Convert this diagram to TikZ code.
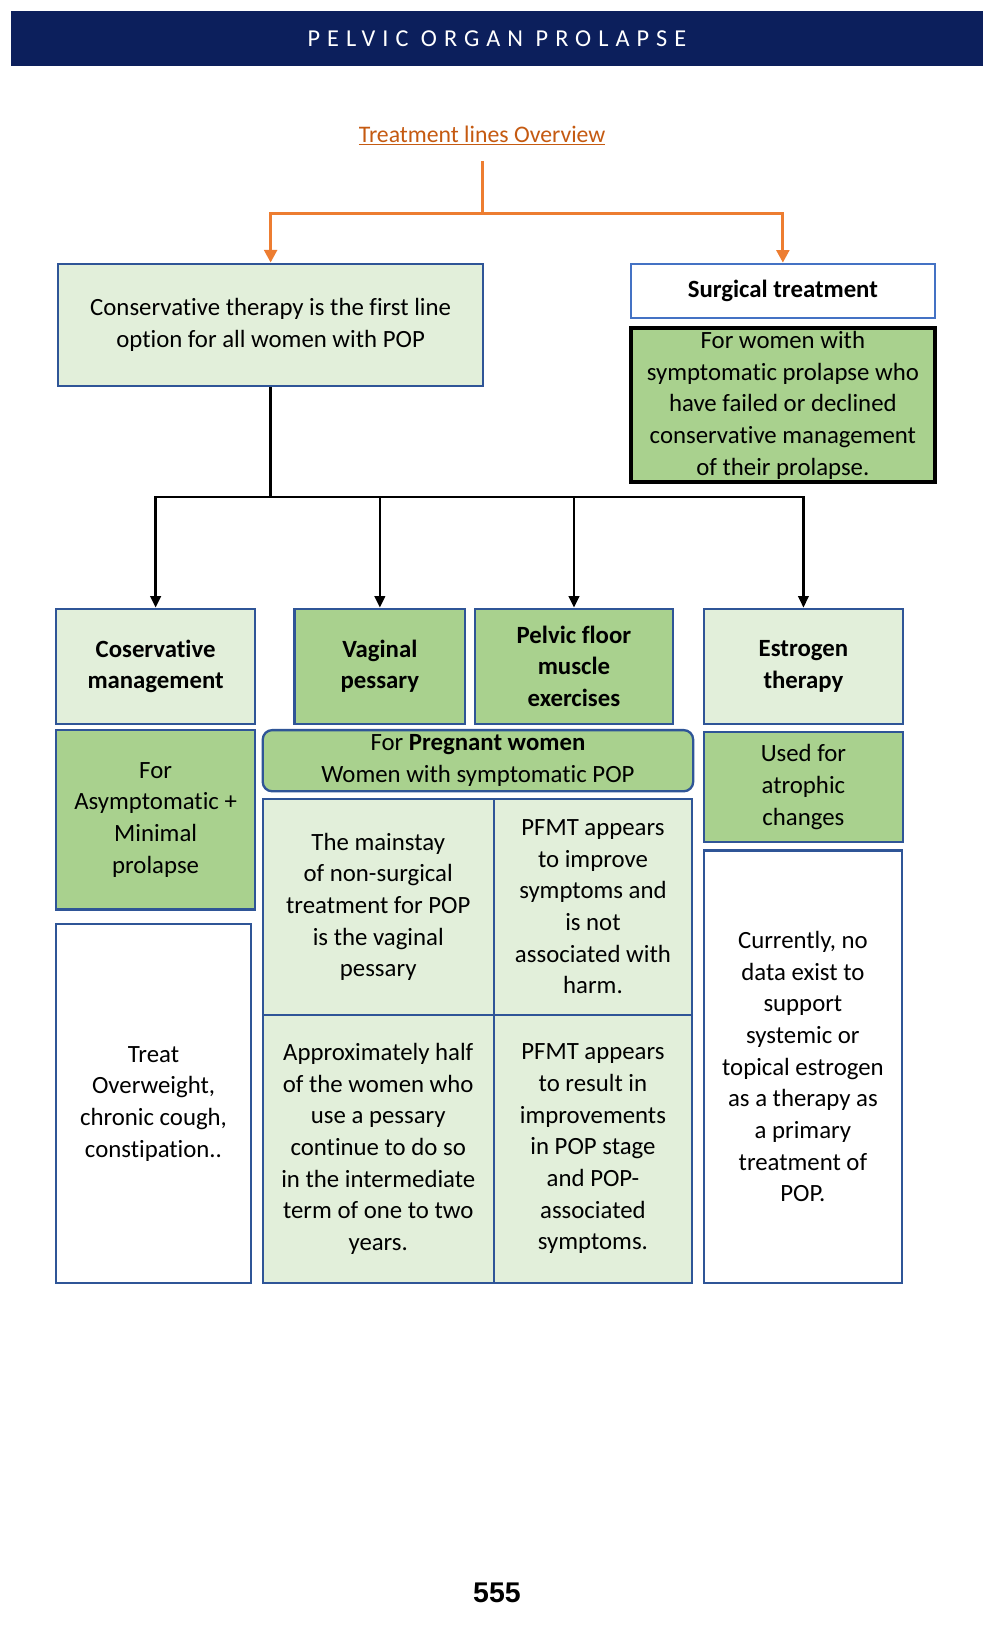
\documentclass[tikz,border=0pt]{standalone}
\usepackage{fontspec}
\setmainfont{Carlito}[Ligatures=NoCommon]
\newfontfamily\hdrfont[LetterSpace=29]{Carlito}
\newfontfamily\pgfont{Liberation Sans}
\usetikzlibrary{arrows.meta}
\definecolor{navy}{HTML}{0C1F5C}
\definecolor{lightg}{HTML}{E2EFDA}
\definecolor{midg}{HTML}{A9D18E}
\definecolor{bord}{HTML}{2F5597}
\definecolor{bordlight}{HTML}{4472C4}
\definecolor{orgline}{HTML}{ED7D31}
\definecolor{orgtext}{HTML}{C55A11}
\tikzset{
  box/.style={draw=bord, line width=2.2pt, inner sep=0pt, align=center,
    font=\fontsize{23.5}{30}\selectfont},
  lbox/.style={box, fill=lightg},
  gbox/.style={box, fill=midg},
  wbox/.style={box, fill=white},
  orgarrow/.style={draw=orgline, line width=3pt, -{Triangle[length=12pt,width=12pt]}},
  orgplain/.style={draw=orgline, line width=3pt},
  blkarrow/.style={draw=black, line width=2.4pt, -{Triangle[length=11pt,width=10pt]}},
  blkplain/.style={draw=black, line width=2.4pt},
}
\begin{document}
\begin{tikzpicture}[x=1pt,y=-1pt]
\useasboundingbox (0,0) rectangle (940,1562);
\fill[white] (0,0) rectangle (940,1562);
% header
\node[fill=navy, minimum width=922pt, minimum height=53pt, inner sep=0pt,
  text=white, font=\hdrfont\fontsize{23}{28}\selectfont] (hdr) at (471,36.5) {PELVIC ORGAN PROLAPSE};
% title
\node[text=orgtext, font=\fontsize{22.5}{28}\selectfont, inner sep=0pt] (title) at (457,128) {\underline{Treatment lines Overview}};
\coordinate (ob) at (457,153);
\coordinate (oj) at (457,202);
% top boxes
\node[lbox, minimum width=403pt, minimum height=116pt] (cons) at (256.5,308)
  {Conservative therapy is the first line\\option for all women with POP};
\node[wbox, draw=bordlight, line width=2pt, minimum width=288pt, minimum height=51pt] (surg) at (742,275.5)
  {\textbf{Surgical treatment}};
\node[gbox, draw=black, line width=3.5pt, minimum width=288pt, minimum height=146pt] (surgg) at (742,384)
  {For women with\\symptomatic prolapse who\\have failed or declined\\conservative management\\of their prolapse.};
% connectors orange
\draw[orgplain] (ob) -- (oj);
\draw[orgarrow] (oj) -| (cons.north);
\draw[orgarrow] (oj) -| (surg.north);
% second level boxes
\node[lbox, minimum width=189pt, minimum height=109pt] (cm) at (147.5,631.5)
  {\textbf{Coservative}\\\textbf{management}};
\node[gbox, minimum width=162pt, minimum height=109pt] (vp) at (360,631.5)
  {\textbf{Vaginal}\\\textbf{pessary}};
\node[gbox, minimum width=188pt, minimum height=109pt] (pf) at (544,631.5)
  {\textbf{Pelvic floor}\\\textbf{muscle}\\\textbf{exercises}};
\node[lbox, minimum width=189pt, minimum height=109pt] (et) at (761.5,631.5)
  {\textbf{Estrogen}\\\textbf{therapy}};
% black connectors
\coordinate (bj) at (256.5,471);
\draw[blkplain] (cons.south) -- (bj);
\draw[blkarrow] (bj) -| (cm.north);
\draw[blkarrow] (bj) -| (vp.north);
\draw[blkarrow] (bj) -| (pf.north);
\draw[blkarrow] (bj) -| (et.north);
% third row
\node[gbox, minimum width=189pt, minimum height=170pt] (asym) at (147.5,777)
  {For\\Asymptomatic +\\Minimal\\prolapse};
\node[gbox, rounded corners=9pt, minimum width=408pt, minimum height=58pt] (preg) at (453,721)
  {For \textbf{Pregnant women}\\Women with symptomatic POP};
\node[gbox, minimum width=189pt, minimum height=104pt] (used) at (761.5,746)
  {Used for\\atrophic\\changes};
% lower boxes
\node[wbox, minimum width=185pt, minimum height=340pt] (treat) at (145.5,1046)
  {Treat\\Overweight,\\chronic cough,\\constipation..};
\node[lbox, minimum width=219pt, minimum height=205pt] (tl) at (358.5,859.5)
  {The mainstay\\of non-surgical\\treatment for POP\\is the vaginal\\pessary};
\node[lbox, minimum width=188pt, minimum height=205pt] (tr) at (562,859.5)
  {PFMT appears\\to improve\\symptoms and\\is not\\associated with\\harm.};
\node[lbox, minimum width=219pt, minimum height=254pt] (bl) at (358.5,1089)
  {Approximately half\\of the women who\\use a pessary\\continue to do so\\in the intermediate\\term of one to two\\years.};
\node[lbox, minimum width=188pt, minimum height=254pt] (br) at (562,1089)
  {PFMT appears\\to result in\\improvements\\in POP stage\\and POP-\\associated\\symptoms.};
\node[wbox, minimum width=188pt, minimum height=410pt] (curr) at (761,1011)
  {Currently, no\\data exist to\\support\\systemic or\\topical estrogen\\as a therapy as\\a primary\\treatment of\\POP.};
% page number
\node[font=\pgfont\bfseries\fontsize{27}{32}\selectfont, inner sep=0pt] (pg) at (471,1510) {555};
\end{tikzpicture}
\end{document}
